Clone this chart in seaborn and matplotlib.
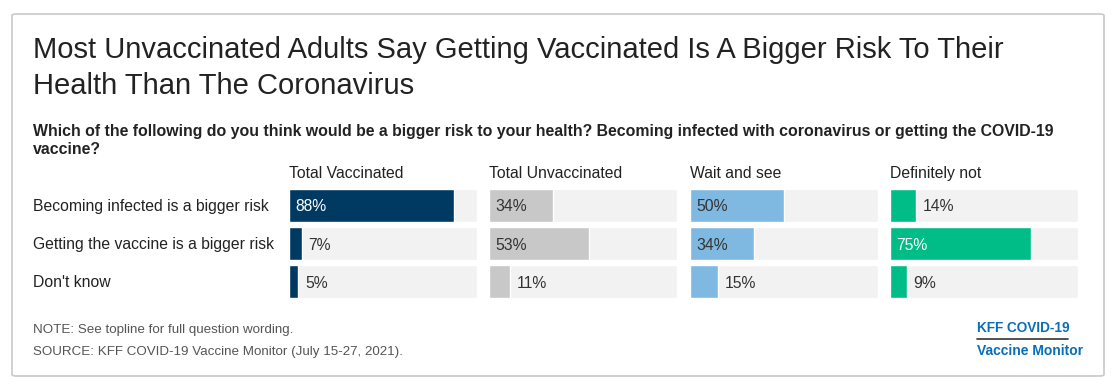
import numpy as np
import pandas as pd
import matplotlib.pyplot as plt
import seaborn as sns
from matplotlib.patches import FancyBboxPatch

sns.set_theme(style='white')
plt.rcParams['font.family'] = ['Liberation Sans', 'DejaVu Sans']

# data
rows = ['Becoming infected is a bigger risk', 'Getting the vaccine is a bigger risk', "Don't know"]
groups = ['Total Vaccinated', 'Total Unvaccinated', 'Wait and see', 'Definitely not']
vaccinated = [88, 7, 5]
unvaccinated = [34, 53, 11]
wait_and_see = [50, 34, 15]
definitely_not = [14, 75, 9]
series = [vaccinated, unvaccinated, wait_and_see, definitely_not]

colors = ['#003a63', '#c8c8c8', '#7fb9e1', '#00bc87']
label_colors = ['white', '#333333', '#333333', 'white']

W, H = 1117, 390
fig = plt.figure(figsize=(W / 100, H / 100), dpi=100)

def y(px):
    return 1 - px / H

# outer frame
frame = FancyBboxPatch((12 / W, 14 / H), 1092 / W, 362 / H,
                       boxstyle='round,pad=0,rounding_size=0.004',
                       transform=fig.transFigure, facecolor='none',
                       edgecolor='#c8c8c8', linewidth=1.2, zorder=-1)
fig.patches.append(frame)

fig.text(33 / W, y(58), 'Most Unvaccinated Adults Say Getting Vaccinated Is A Bigger Risk To Their',
         fontsize=21, color='#222222', va='baseline')
fig.text(33 / W, y(94), 'Health Than The Coronavirus',
         fontsize=21, color='#222222', va='baseline')
fig.text(33 / W, y(136),
         'Which of the following do you think would be a bigger risk to your health? Becoming infected with coronavirus or getting the COVID-19',
         fontsize=11.4, fontweight='bold', color='#222222', va='baseline')
fig.text(33 / W, y(154), 'vaccine?', fontsize=11.4, fontweight='bold', color='#222222', va='baseline')

lefts = [289, 489, 690, 890]
pw = 188
top, bottom = 186, 301

for i in range(4):
    ax = fig.add_axes([lefts[i] / W, y(bottom), pw / W, (bottom - top) / H])
    df = pd.DataFrame({'row': rows, 'value': series[i], 'full': [100] * 3})
    sns.barplot(data=df, x='full', y='row', color='#f2f2f2', width=0.865, ax=ax, saturation=1)
    sns.barplot(data=df, x='value', y='row', color=colors[i], width=0.865, ax=ax, saturation=1)
    ax.set_xlim(0, 100)
    ax.set_ylim(2.5, -0.5)
    ax.set_xlabel('')
    ax.set_ylabel('')
    ax.set_xticks([])
    ax.set_yticks([])
    for s in ax.spines.values():
        s.set_visible(False)
    ax.patch.set_alpha(0)
    for j, v in enumerate(series[i]):
        if v >= 30:
            ax.text(3.5, j, f'{v}%', color=label_colors[i], va='center_baseline', ha='left', fontsize=11.3)
        else:
            ax.text(v + 3.5, j, f'{v}%', color='#333333', va='center_baseline', ha='left', fontsize=11.3)
    fig.text(lefts[i] / W, y(178), groups[i], fontsize=11.3, color='#222222', va='baseline')

row_base = [210.5, 249, 287]
for r, b in zip(rows, row_base):
    fig.text(33 / W, y(b), r, fontsize=11.3, color='#222222', va='baseline')

fig.text(33 / W, y(333), 'NOTE: See topline for full question wording.',
         fontsize=9.6, color='#555555', va='baseline')
fig.text(33 / W, y(355), 'SOURCE: KFF COVID-19 Vaccine Monitor (July 15-27, 2021).',
         fontsize=9.6, color='#555555', va='baseline')

fig.text(977 / W, y(332), 'KFF COVID-19', fontsize=9.8, fontweight='bold',
         color='#0a6fb8', va='baseline', family=['Liberation Sans Narrow', 'Liberation Sans'])
fig.add_artist(plt.Line2D([977 / W, 1068 / W], [y(339), y(339)],
                          color='#333333', linewidth=1.2, transform=fig.transFigure))
fig.text(977 / W, y(355), 'Vaccine Monitor', fontsize=10, fontweight='bold',
         color='#0a6fb8', va='baseline', family=['Liberation Sans Narrow', 'Liberation Sans'])

fig.savefig('out.png', dpi=100)
